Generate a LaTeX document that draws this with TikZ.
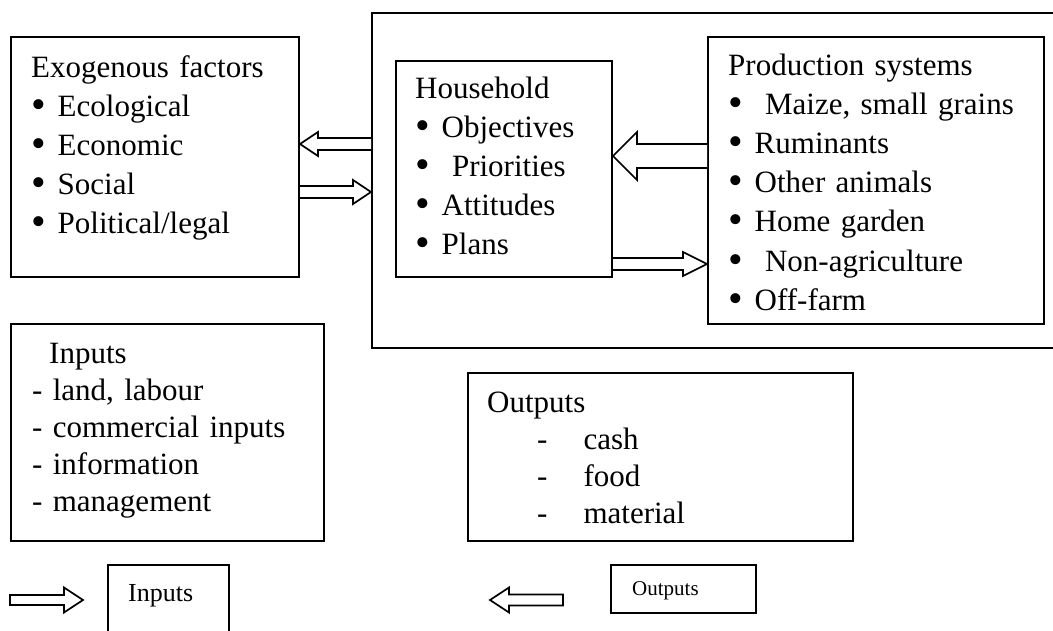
\documentclass[tikz,border=0pt]{standalone}
\usepackage{fontspec}
\setmainfont{Liberation Serif}
\usepackage{graphicx}
\usepackage{tikz}
\tikzset{
  box/.style={rectangle, draw, line width=2pt, inner sep=0pt, anchor=north west},
  boxtext/.style={anchor=base west, inner sep=0pt, align=left, text width=#1},
  boxtext/.default=330pt,
  hollow/.style={draw, line width=1.7pt, fill=white, line join=miter},
}
\newcommand{\bigtext}{\fontsize{31}{39.2}\selectfont}
\newcommand{\listtext}{\fontsize{31}{37}\selectfont}
\newcommand{\itembullet}{\raisebox{-0.07em}{\scalebox{1.35}{\textbullet}}\hspace{0.05em}}

\begin{document}
\begin{tikzpicture}[x=1pt, y=-1pt]
  \useasboundingbox (0,0) rectangle (1053,630);
  \clip (0,0) rectangle (1053,630);

  % boxes
  \node (outer) [box, minimum width=720pt, minimum height=335pt] at (371,12) {};
  \node (exo) [box, minimum width=288pt, minimum height=240pt] at (10,36) {};
  \node (house) [box, minimum width=216pt, minimum height=216pt] at (395,60) {};
  \node (prod) [box, minimum width=336pt, minimum height=287pt] at (707,36) {};
  \node (inputs) [box, minimum width=313pt, minimum height=217pt] at (10,323) {};
  \node (outputs) [box, minimum width=385pt, minimum height=168pt] at (467,372) {};
  \node (insmall) [box, minimum width=121pt, minimum height=90pt] at (107,564) {};
  \node (outsmall) [box, minimum width=145pt, minimum height=48pt] at (610,564) {};

  % texts
  \node (exotext) [boxtext, font=\bigtext] at (31,77) {Exogenous factors\\
    \itembullet{} Ecological\\ \itembullet{} Economic\\ \itembullet{} Social\\
    \itembullet{} Political/legal};
  \node (housetext) [boxtext, font=\bigtext] at (415,98) {Household\\
    \itembullet{} Objectives\\ \itembullet\ \ Priorities\\ \itembullet{} Attitudes\\
    \itembullet{} Plans};
  \node (prodtext) [boxtext, font=\bigtext] at (728,75) {Production systems\\
    \itembullet\ \ Maize, small grains\\ \itembullet{} Ruminants\\
    \itembullet{} Other animals\\ \itembullet{} Home garden\\
    \itembullet\ \ Non-agriculture\\ \itembullet{} Off-farm};
  \node (intext) [boxtext, font=\listtext] at (32,363) {\hspace*{17pt}Inputs\\
    - land, labour\\ - commercial inputs\\ - information\\ - management};
  \node (outtext) [boxtext, font=\listtext] at (487,412) {Outputs\\
    \hspace*{50pt}-\hspace*{36pt}cash\\
    \hspace*{50pt}-\hspace*{36pt}food\\
    \hspace*{50pt}-\hspace*{36pt}material};
  \node (insmalltext) [boxtext=90pt, font=\fontsize{26}{30}\selectfont] at (128,601) {Inputs};
  \node (outsmalltext) [boxtext=100pt, font=\fontsize{21}{25}\selectfont] at (632,595) {Outputs};

  % block arrows between the boxes
  \draw [hollow] (outer.west |- 0,138) -| ([xshift=18pt]exo.east |- 0,132)
    -- (exo.east |- 0,144) -- ([xshift=18pt]exo.east |- 0,156) |- (outer.west |- 0,150);
  \draw [hollow] (exo.east |- 0,186) -| ([xshift=-18pt]outer.west |- 0,180)
    -- (outer.west |- 0,192) -- ([xshift=-18pt]outer.west |- 0,204) |- (exo.east |- 0,198);
  \draw [hollow] (prod.west |- 0,144) -| ([xshift=24pt]house.east |- 0,132)
    -- (house.east |- 0,156) -- ([xshift=24pt]house.east |- 0,180) |- (prod.west |- 0,168);
  \draw [hollow] (house.east |- 0,258) -| ([xshift=-24pt]prod.west |- 0,252)
    -- (prod.west |- 0,264) -- ([xshift=-24pt]prod.west |- 0,276) |- (house.east |- 0,270);

  % legend arrows
  \coordinate (intail) at (10,600);
  \coordinate (intip) at (83,600);
  \coordinate (outtail) at (563,600);
  \coordinate (outtip) at (490,600);
  \draw [hollow] ([yshift=5pt]intail) -- ([xshift=-19pt,yshift=5pt]intip)
    -- ([xshift=-19pt,yshift=12.5pt]intip) -- (intip)
    -- ([xshift=-19pt,yshift=-12.5pt]intip) -- ([xshift=-19pt,yshift=-5pt]intip)
    -- ([yshift=-5pt]intail) -- cycle;
  \draw [hollow] ([yshift=5.5pt]outtail) -- ([xshift=19pt,yshift=5.5pt]outtip)
    -- ([xshift=19pt,yshift=12.5pt]outtip) -- (outtip)
    -- ([xshift=19pt,yshift=-12.5pt]outtip) -- ([xshift=19pt,yshift=-5.5pt]outtip)
    -- ([yshift=-5.5pt]outtail) -- cycle;
\end{tikzpicture}
\end{document}
